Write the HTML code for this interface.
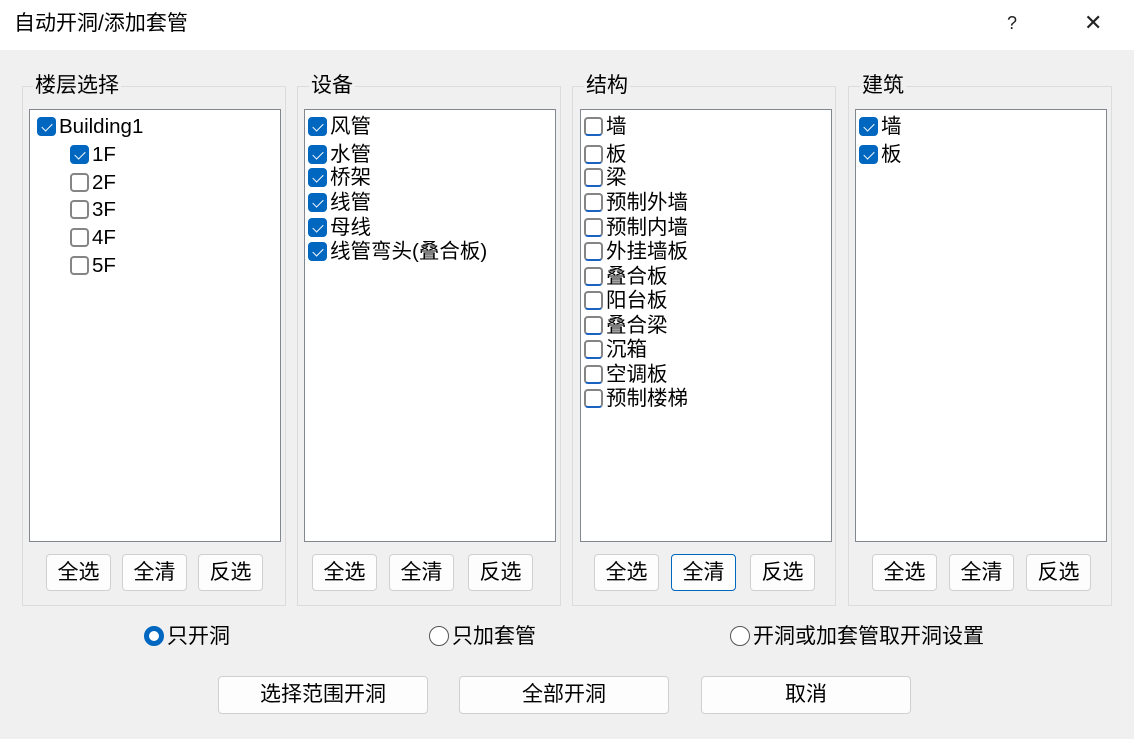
<!DOCTYPE html>
<html><head><meta charset="utf-8"><style>
*{margin:0;padding:0;box-sizing:border-box}
body{width:1134px;height:739px;background:#f0f0f0;position:relative;overflow:hidden;font-family:"Liberation Sans","Noto Sans CJK SC",sans-serif;color:#000}
.abs{position:absolute}
.title{left:0;top:0;width:1134px;height:50px;background:#fff}
.grp{position:absolute;border:1px solid #dcdcdc;top:86px;height:520px;width:264px}
.gl{position:absolute;top:72px;font-size:21px;background:#f0f0f0;padding:0 2px;line-height:28px}
.lb{position:absolute;top:109px;width:252px;height:433px;background:#fff;border:1px solid #828790}
.it{position:absolute;font-size:20.5px;line-height:24px;white-space:nowrap;height:24px}
.cb{display:inline-block;width:19px;height:19px;border:2px solid #858585;border-radius:4px;vertical-align:-3px;margin-right:3px;background:#fff;position:relative}
.cb.c{background:#0067c0;border-color:#0067c0}
.cb.c:after{content:"";position:absolute;left:5px;top:2px;width:5px;height:9px;border:solid #fff;border-width:0 1.5px 1.5px 0;transform:rotate(45deg)}
.cb.s{border-bottom-color:#1a62c0}
.bt{position:absolute;top:554px;width:65px;height:37px;background:#fdfdfd;border:1px solid #d0d0d0;border-radius:4px;font-size:21px;text-align:center;line-height:35px}
.bb{position:absolute;top:676px;width:210px;height:38px;background:#fdfdfd;border:1px solid #d0d0d0;border-radius:4px;font-size:21px;text-align:center;line-height:36px}
.rd{position:absolute;top:625px;font-size:21px;line-height:24px;white-space:nowrap}
.r{display:inline-block;width:20px;height:20px;border-radius:50%;border:1.5px solid #555;vertical-align:-3px;margin-right:3px;background:#fff}
.r.on{border:5px solid #0067c0;background:#fff}
</style></head><body>
<div class="abs title"></div>
<div class="abs" style="left:14px;top:9px;font-size:21px;line-height:30px">自动开洞/添加套管</div>
<div class="abs" style="left:1007px;top:10px;font-size:18px;line-height:26px;color:#222">?</div>
<div class="abs" style="left:1084px;top:8px;font-size:22px;line-height:30px;color:#222">✕</div>

<div class="grp" style="left:22px"></div>
<div class="grp" style="left:297px"></div>
<div class="grp" style="left:572px"></div>
<div class="grp" style="left:848px"></div>
<div class="gl" style="left:33px">楼层选择</div>
<div class="gl" style="left:309px">设备</div>
<div class="gl" style="left:584px">结构</div>
<div class="gl" style="left:860px">建筑</div>

<div class="lb" style="left:29px"></div>
<div class="lb" style="left:304px"></div>
<div class="lb" style="left:580px"></div>
<div class="lb" style="left:855px"></div>

<div class="it" style="left:37px;top:115px"><span class="cb c"></span>Building1</div>
<div class="it" style="left:70px;top:143px"><span class="cb c"></span>1F</div>
<div class="it" style="left:70px;top:171px"><span class="cb"></span>2F</div>
<div class="it" style="left:70px;top:198px"><span class="cb"></span>3F</div>
<div class="it" style="left:70px;top:226px"><span class="cb"></span>4F</div>
<div class="it" style="left:70px;top:254px"><span class="cb"></span>5F</div>

<div class="it" style="left:308px;top:115px"><span class="cb c"></span>风管</div>
<div class="it" style="left:308px;top:143px"><span class="cb c"></span>水管</div>
<div class="it" style="left:308px;top:166px"><span class="cb c"></span>桥架</div>
<div class="it" style="left:308px;top:191px"><span class="cb c"></span>线管</div>
<div class="it" style="left:308px;top:216px"><span class="cb c"></span>母线</div>
<div class="it" style="left:308px;top:240px"><span class="cb c"></span>线管弯头(叠合板)</div>

<div class="it" style="left:584px;top:115px"><span class="cb s"></span>墙</div>
<div class="it" style="left:584px;top:143px"><span class="cb s"></span>板</div>
<div class="it" style="left:584px;top:166px"><span class="cb s"></span>梁</div>
<div class="it" style="left:584px;top:191px"><span class="cb s"></span>预制外墙</div>
<div class="it" style="left:584px;top:216px"><span class="cb s"></span>预制内墙</div>
<div class="it" style="left:584px;top:240px"><span class="cb s"></span>外挂墙板</div>
<div class="it" style="left:584px;top:265px"><span class="cb s"></span>叠合板</div>
<div class="it" style="left:584px;top:289px"><span class="cb s"></span>阳台板</div>
<div class="it" style="left:584px;top:314px"><span class="cb s"></span>叠合梁</div>
<div class="it" style="left:584px;top:338px"><span class="cb s"></span>沉箱</div>
<div class="it" style="left:584px;top:363px"><span class="cb s"></span>空调板</div>
<div class="it" style="left:584px;top:387px"><span class="cb s"></span>预制楼梯</div>

<div class="it" style="left:859px;top:115px"><span class="cb c"></span>墙</div>
<div class="it" style="left:859px;top:143px"><span class="cb c"></span>板</div>

<div class="bt" style="left:46px">全选</div>
<div class="bt" style="left:122px">全清</div>
<div class="bt" style="left:198px">反选</div>
<div class="bt" style="left:312px">全选</div>
<div class="bt" style="left:389px">全清</div>
<div class="bt" style="left:468px">反选</div>
<div class="bt" style="left:594px">全选</div>
<div class="bt" style="left:671px;border:1.5px solid #0067c0">全清</div>
<div class="bt" style="left:750px">反选</div>
<div class="bt" style="left:872px">全选</div>
<div class="bt" style="left:949px">全清</div>
<div class="bt" style="left:1026px">反选</div>

<div class="rd" style="left:144px"><span class="r on"></span>只开洞</div>
<div class="rd" style="left:429px"><span class="r"></span>只加套管</div>
<div class="rd" style="left:730px"><span class="r"></span>开洞或加套管取开洞设置</div>

<div class="bb" style="left:218px">选择范围开洞</div>
<div class="bb" style="left:459px">全部开洞</div>
<div class="bb" style="left:701px">取消</div>
</body></html>
